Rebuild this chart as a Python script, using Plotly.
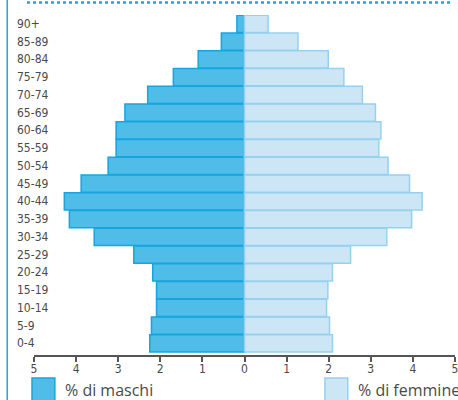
import plotly.graph_objects as go

age_groups = ["0-4", "5-9", "10-14", "15-19", "20-24", "25-29", "30-34", "35-39",
              "40-44", "45-49", "50-54", "55-59", "60-64", "65-69", "70-74",
              "75-79", "80-84", "85-89", "90+"]
males = [2.25, 2.21, 2.09, 2.09, 2.18, 2.63, 3.57, 4.16, 4.28, 3.88, 3.24,
         3.05, 3.05, 2.84, 2.30, 1.69, 1.10, 0.55, 0.18]
females = [2.09, 2.02, 1.95, 1.98, 2.09, 2.52, 3.38, 3.97, 4.22, 3.92, 3.41,
           3.19, 3.24, 3.11, 2.80, 2.36, 1.99, 1.27, 0.56]
tick_vals = [-5, -4, -3, -2, -1, 0, 1, 2, 3, 4, 5]
tick_text = ["5", "4", "3", "2", "1", "0", "1", "2", "3", "4", "5"]
legend_labels = ["% di maschi", "% di femmine"]

W, H = 458, 400
ML, MR, MT, MB = 34, 0, 15, 45
PW = W - ML - MR
PH = H - MT - MB

male_fill, male_line = "#4fbde8", "#16a5de"
fem_fill, fem_line = "#cce6f5", "#95d1ef"
text_col = "#4a4a4a"
font_narrow = "Liberation Sans Narrow, DejaVu Sans Condensed, Arial Narrow, sans-serif"
font_main = "Open Sans, Lato, sans-serif"

fig = go.Figure()
fig.add_trace(go.Bar(
    y=list(range(len(age_groups))), x=[-v for v in males], orientation="h",
    marker=dict(color=male_fill, line=dict(color=male_line, width=1.5)),
    name=legend_labels[0], showlegend=False, hoverinfo="skip"))
fig.add_trace(go.Bar(
    y=list(range(len(age_groups))), x=females, orientation="h",
    marker=dict(color=fem_fill, line=dict(color=fem_line, width=1.5)),
    name=legend_labels[1], showlegend=False, hoverinfo="skip"))

def px_x(p):
    return (p - ML) / PW

def px_y(p):
    return 1 - (p - MT) / PH

annotations = []
for i, g in enumerate(age_groups):
    annotations.append(dict(
        x=px_x(15), xref="paper", y=i, yref="y", text=g, showarrow=False,
        xanchor="left", yanchor="middle",
        font=dict(family=font_narrow, size=12, color=text_col)))

shapes = [
    dict(type="line", xref="paper", yref="paper", x0=px_x(7), x1=px_x(7),
         y0=px_y(0), y1=px_y(400), line=dict(color="#1aa6df", width=1.5)),
    dict(type="line", xref="paper", yref="paper", x0=px_x(27), x1=px_x(455),
         y0=px_y(2.5), y1=px_y(2.5), line=dict(color="#1aa6df", width=2.5, dash="dot")),
    dict(type="rect", xref="paper", yref="paper", x0=px_x(32), x1=px_x(55),
         y0=px_y(378), y1=px_y(402), fillcolor=male_fill,
         line=dict(color=male_line, width=1.5)),
    dict(type="rect", xref="paper", yref="paper", x0=px_x(327), x1=px_x(350),
         y0=px_y(378), y1=px_y(402), fillcolor=fem_fill,
         line=dict(color=fem_line, width=1.5)),
]
annotations.append(dict(x=px_x(63), xref="paper", y=px_y(390), yref="paper",
                        text=legend_labels[0], showarrow=False, xanchor="left",
                        yanchor="middle", font=dict(family=font_main, size=16, color=text_col)))
annotations.append(dict(x=px_x(358), xref="paper", y=px_y(390), yref="paper",
                        text=legend_labels[1], showarrow=False, xanchor="left",
                        yanchor="middle", font=dict(family=font_main, size=16, color=text_col)))

fig.update_layout(
    width=W, height=H,
    margin=dict(l=ML, r=MR, t=MT, b=MB, pad=0),
    paper_bgcolor="white", plot_bgcolor="white",
    barmode="overlay", bargap=0.03,
    showlegend=False,
    annotations=annotations, shapes=shapes,
    xaxis=dict(range=[-5, 5], tickvals=tick_vals, ticktext=tick_text,
               showgrid=False, zeroline=False, showline=True,
               linecolor="#555555", linewidth=1.5,
               ticks="outside", ticklen=5, tickcolor="#555555", tickwidth=1.5,
               tickfont=dict(family=font_narrow, size=12, color=text_col),
               ticklabeloverflow="allow", ticklabelstandoff=-3,
               fixedrange=True),
    yaxis=dict(range=[-0.65, 18.5], showticklabels=False, showgrid=False,
               zeroline=False, showline=False, ticks="", fixedrange=True),
)

fig.write_html("out.html", config={"displayModeBar": False},
               post_script="document.body.style.margin='0';document.body.style.overflow='hidden';")
